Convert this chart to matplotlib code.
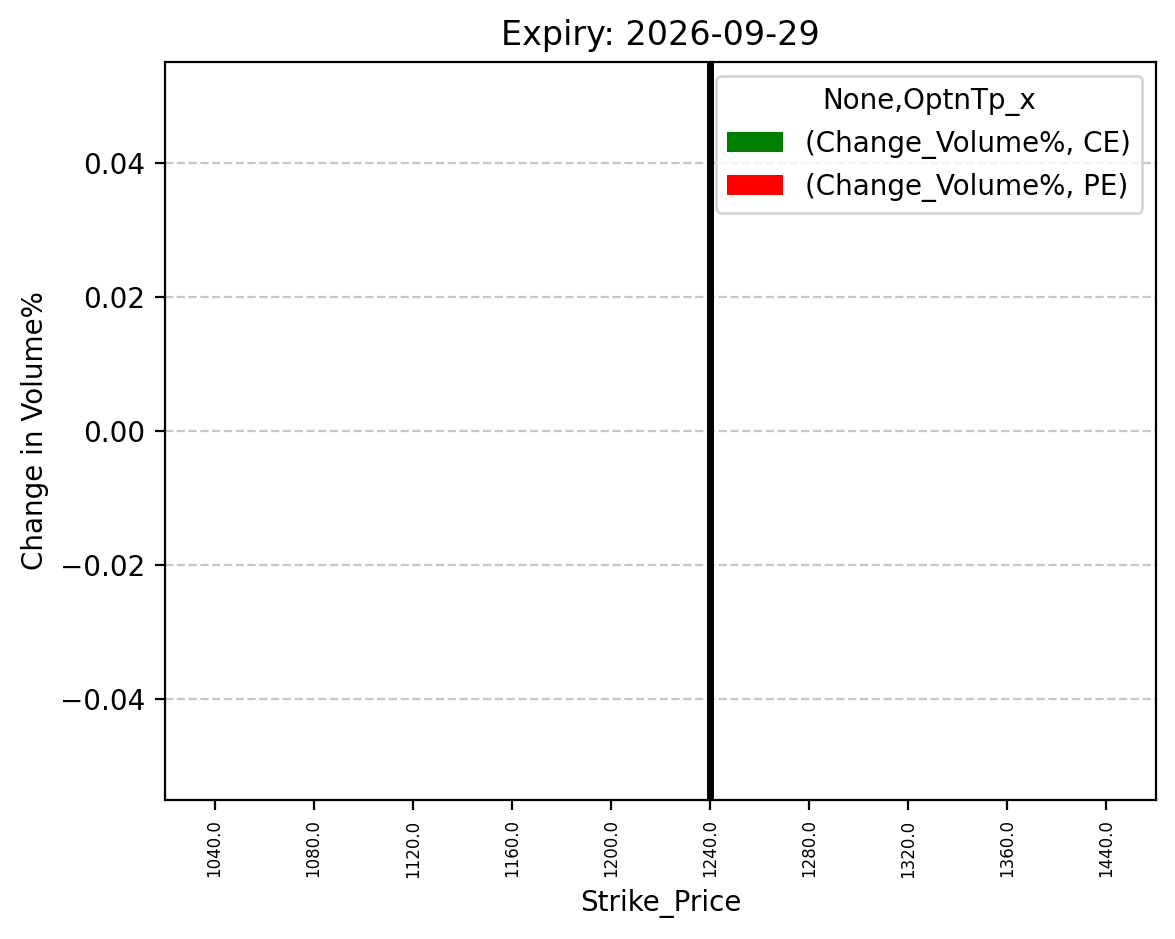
import numpy as np
import pandas as pd
import matplotlib
matplotlib.use('Agg')
import matplotlib.pyplot as plt

strikes = [1040.0, 1080.0, 1120.0, 1160.0, 1200.0, 1240.0, 1280.0, 1320.0, 1360.0, 1440.0]
ce_change = [0.0, 0.0, 0.0, 0.0, 0.0, 0.0, 0.0, 0.0, 0.0, 0.0]
pe_change = [0.0, 0.0, 0.0, 0.0, 0.0, 0.0, 0.0, 0.0, 0.0, 0.0]
spot_strike = 1240.0
expiry = '2026-09-29'

cols = pd.MultiIndex.from_tuples([('Change_Volume%', 'CE'), ('Change_Volume%', 'PE')],
                                 names=[None, 'OptnTp_x'])
df = pd.DataFrame(np.column_stack([ce_change, pe_change]),
                  index=pd.Index(strikes, name='Strike_Price'), columns=cols)

fig, ax = plt.subplots(figsize=(1175 / 200, 939 / 200), dpi=200)
df.plot(kind='bar', ax=ax, color=['green', 'red'])
ax.axvline(x=strikes.index(spot_strike), color='black', linewidth=2.5)
ax.set_title('Expiry: ' + expiry)
ax.set_ylabel('Change in Volume%')
ax.set_xlabel('Strike_Price')
ax.tick_params(axis='x', labelsize=6, rotation=90)
ax.grid(axis='y', linestyle='--', alpha=0.7)
ax.set_ylim(-0.055, 0.055)
ax.legend(title='None,OptnTp_x', loc='upper right')
plt.subplots_adjust(left=0.1404, right=0.9838, top=0.934, bottom=0.148)
plt.savefig('out.png', dpi=200)
